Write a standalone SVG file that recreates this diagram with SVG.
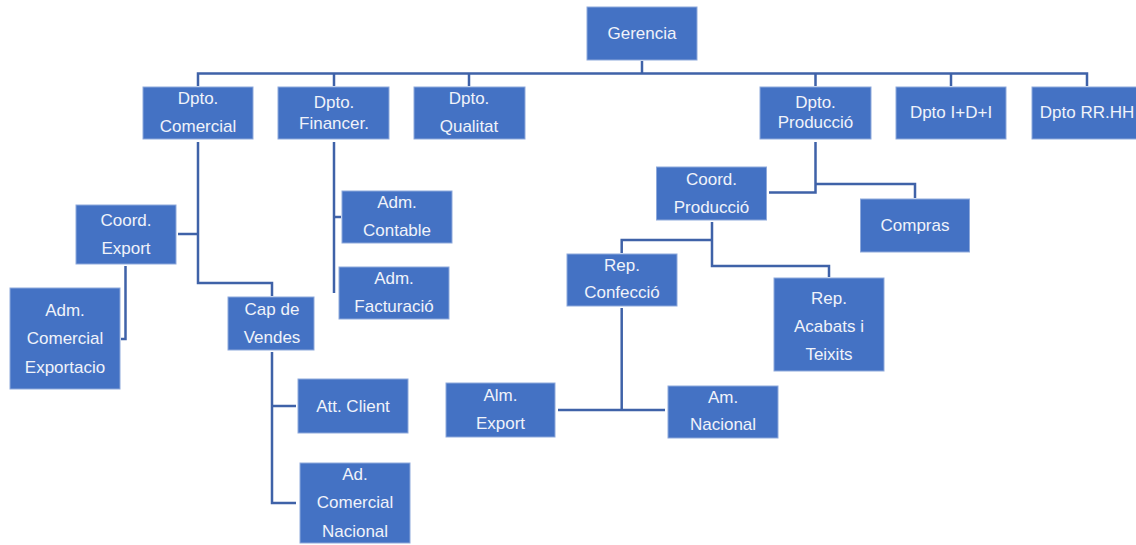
<svg xmlns="http://www.w3.org/2000/svg" width="1136" height="545" viewBox="0 0 1136 545">
<style>
.box{fill:#4472C4;stroke:#8EA9DB;stroke-width:1}
.t{font-family:"Liberation Sans",Arial,sans-serif;font-size:17px;fill:#F0F3FA;text-anchor:middle;dominant-baseline:central}
.c{fill:none;stroke:#3F62A8;stroke-width:2.5}
</style>
<rect width="1136" height="545" fill="#FFFFFF"/>
<g id="connectors">
<path class="c" d="M642,61 V73.5"/>
<path class="c" d="M198,86 V73.5 H1087 V86"/>
<path class="c" d="M334,73.5 V86 M469,73.5 V86 M815.5,73.5 V86 M951,73.5 V86"/>
<path class="c" d="M198,142 V283 H272 V296"/>
<path class="c" d="M178,234 H198"/>
<path class="c" d="M125.5,266 V339 H121"/>
<path class="c" d="M272,352 V503 H296"/>
<path class="c" d="M272,406 H296"/>
<path class="c" d="M334,142 V293"/>
<path class="c" d="M334,217 H341"/>
<path class="c" d="M815.5,142 V192.5 H769"/>
<path class="c" d="M815.5,184 H915 V198"/>
<path class="c" d="M712,222 V266 H829 V277"/>
<path class="c" d="M712,240 H621.7 V253"/>
<path class="c" d="M621.7,308 V411"/>
<path class="c" d="M558,410 H665"/>
</g>
<g id="gerencia"><rect class="box" x="587" y="7" width="110" height="53"/><text class="t" x="642" y="33">Gerencia</text></g>
<g id="dpto-comercial"><rect class="box" x="143" y="87" width="110" height="52"/><text class="t" x="198" y="98">Dpto.</text><text class="t" x="198" y="126">Comercial</text></g>
<g id="dpto-financer"><rect class="box" x="278" y="87" width="111" height="52"/><text class="t" x="334" y="102">Dpto.</text><text class="t" x="334" y="123">Financer.</text></g>
<g id="dpto-qualitat"><rect class="box" x="414" y="87" width="111" height="52"/><text class="t" x="469" y="98">Dpto.</text><text class="t" x="469" y="126">Qualitat</text></g>
<g id="dpto-produccio"><rect class="box" x="760" y="87" width="111" height="52"/><text class="t" x="815.5" y="102">Dpto.</text><text class="t" x="815.5" y="122">Producció</text></g>
<g id="dpto-idi"><rect class="box" x="896" y="87" width="110" height="52"/><text class="t" x="951" y="112">Dpto I+D+I</text></g>
<g id="dpto-rrhh"><rect class="box" x="1032" y="87" width="110" height="52"/><text class="t" x="1087" y="112">Dpto RR.HH</text></g>
<g id="coord-export"><rect class="box" x="76" y="205" width="100" height="59"/><text class="t" x="126" y="220">Coord.</text><text class="t" x="126" y="248">Export</text></g>
<g id="adm-contable"><rect class="box" x="342" y="191" width="110" height="52"/><text class="t" x="397" y="202">Adm.</text><text class="t" x="397" y="230">Contable</text></g>
<g id="adm-facturacio"><rect class="box" x="339" y="267" width="110" height="52"/><text class="t" x="394" y="278">Adm.</text><text class="t" x="394" y="306">Facturació</text></g>
<g id="adm-comercial-exportacio"><rect class="box" x="10" y="288" width="110" height="101"/><text class="t" x="65" y="310">Adm.</text><text class="t" x="65" y="338">Comercial</text><text class="t" x="65" y="367">Exportacio</text></g>
<g id="cap-de-vendes"><rect class="box" x="228" y="297" width="86" height="53"/><text class="t" x="272" y="309">Cap de</text><text class="t" x="272" y="337">Vendes</text></g>
<g id="att-client"><rect class="box" x="298" y="379" width="110" height="54"/><text class="t" x="353" y="406">Att. Client</text></g>
<g id="ad-comercial-nacional"><rect class="box" x="300" y="463" width="110" height="80"/><text class="t" x="355" y="474">Ad.</text><text class="t" x="355" y="502">Comercial</text><text class="t" x="355" y="531">Nacional</text></g>
<g id="coord-produccio"><rect class="box" x="656.5" y="167" width="110" height="53"/><text class="t" x="711.5" y="179">Coord.</text><text class="t" x="711.5" y="207">Producció</text></g>
<g id="compras"><rect class="box" x="860.5" y="199" width="109" height="53"/><text class="t" x="915" y="225">Compras</text></g>
<g id="rep-confeccio"><rect class="box" x="567" y="254" width="110" height="52"/><text class="t" x="622" y="265">Rep.</text><text class="t" x="622" y="292">Confecció</text></g>
<g id="rep-acabats"><rect class="box" x="774" y="278" width="110" height="93"/><text class="t" x="829" y="298">Rep.</text><text class="t" x="829" y="326">Acabats i</text><text class="t" x="829" y="354">Teixits</text></g>
<g id="alm-export"><rect class="box" x="446" y="383" width="109" height="54"/><text class="t" x="500.5" y="395">Alm.</text><text class="t" x="500.5" y="423">Export</text></g>
<g id="am-nacional"><rect class="box" x="668" y="386" width="110" height="52"/><text class="t" x="723" y="397">Am.</text><text class="t" x="723" y="424">Nacional</text></g>
</svg>
